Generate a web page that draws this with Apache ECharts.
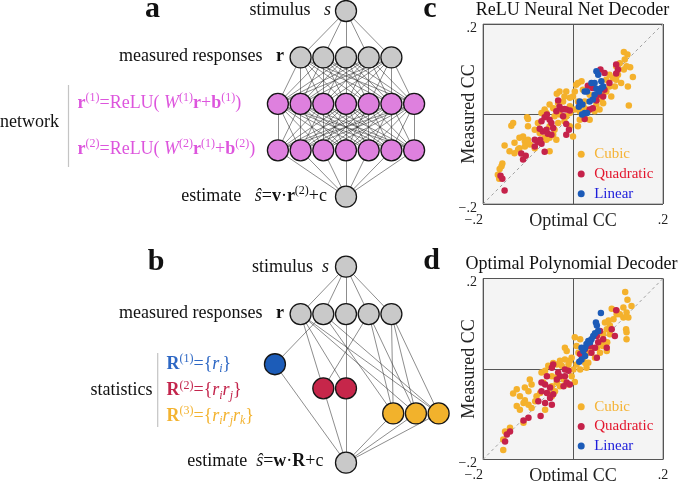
<!DOCTYPE html>
<html><head><meta charset="utf-8">
<script src="https://cdn.jsdelivr.net/npm/echarts@6/dist/echarts.min.js"></script>
<style>html,body{margin:0;padding:0;background:#fff}#chart{width:685px;height:481px}</style>
</head><body><div id="chart"></div>
<script>
// ---------------- DATA ----------------
// Network (a): nodes per layer
const netALayers = [1, 5, 7, 7, 1];
const netAKinds = ['in', 'resp', 'hid', 'hid', 'out'];
// Network (b): node layout in slot / level units
const netBSlots  = [0, -2, -1, 0, 1, 2, -3.13, -1, 0, 2.08, 3.08, 4.08, 0];
const netBLevels = [0, 1, 1, 1, 1, 1, 2.06, 2.57, 2.57, 3.1, 3.1, 3.1, 4.14];
const netBKinds  = ['in','resp','resp','resp','resp','resp','lin','quad','quad','cub','cub','cub','out'];
const netBEdges = [[0,1],[0,2],[0,3],[0,4],[0,5],
  [2,6],[1,7],[4,7],[3,8],[1,8],
  [5,9],[4,9],[2,9],[4,10],[5,10],[1,10],[5,11],[2,11],[1,11],
  [6,12],[7,12],[8,12],[9,12],[10,12],[11,12]];

const ccRange = [-0.2, 0.2];
const legendNames = ['Cubic', 'Quadratic', 'Linear'];

// (c) ReLU Neural Net Decoder: [optimal CC, measured CC]
const cubicC = [[0.113,0.138],[0.121,0.132],[0.119,0.106],[0.127,0.104],[0.113,0.099],[0.133,0.082],[0.122,0.061],[0.124,0.019],[0.096,0.106],[0.100,0.087],[0.089,0.080],[0.081,0.061],[0.093,0.061],[0.074,0.050],[0.085,0.039],[0.067,0.043],[0.074,0.076],[0.063,0.032],[0.052,0.021],[0.067,0.024],[0.033,0.006],[0.037,-0.013],[0.026,-0.009],[0.015,-0.013],[0.011,-0.027],[0.000,-0.050],[0.011,0.069],[0.019,0.073],[0.007,0.065],[0.022,0.054],[0.004,0.050],[0.000,0.039],[0.011,0.028],[-0.007,0.036],[-0.015,0.050],[-0.030,0.050],[-0.036,0.045],[-0.019,0.039],[-0.007,0.017],[-0.022,0.028],[-0.033,0.024],[-0.007,0.002],[-0.015,-0.005],[-0.030,-0.001],[-0.044,0.013],[-0.052,0.021],[-0.063,0.010],[-0.070,0.002],[-0.059,0.002],[-0.078,-0.020],[-0.052,-0.027],[-0.041,-0.035],[-0.033,-0.020],[-0.044,-0.046],[-0.037,-0.057],[-0.052,-0.053],[-0.063,-0.053],[-0.074,-0.042],[-0.100,-0.011],[-0.102,-0.007],[-0.137,-0.026],[-0.133,-0.020],[-0.100,-0.027],[-0.085,-0.035],[-0.119,-0.053],[-0.111,-0.050],[-0.107,-0.061],[-0.100,-0.057],[-0.130,-0.064],[-0.152,-0.070],[-0.119,-0.076],[-0.107,-0.072],[-0.130,-0.087],[-0.122,-0.079],[-0.096,-0.068],[-0.141,-0.083],[-0.159,-0.116],[-0.163,-0.122],[-0.167,-0.135],[-0.164,-0.144],[-0.157,-0.110],[-0.052,-0.083],[-0.059,-0.057],[-0.085,-0.076],[0.026,0.028],[0.037,0.043],[0.052,0.036],[0.026,0.013],[0.048,0.006],[0.059,0.010],[0.096,0.076],[0.107,0.069],[0.104,0.113],[0.115,0.121],[0.081,0.087],[-0.007,-0.027],[-0.019,-0.016],[0.004,0.010],[0.015,0.006],[-0.041,-0.005]];
const quadC = [[-0.152,-0.170],[-0.161,-0.137],[-0.157,-0.144],[-0.115,-0.088],[-0.105,-0.093],[-0.111,-0.101],[-0.085,-0.057],[-0.078,-0.062],[-0.070,-0.066],[-0.063,-0.084],[-0.073,-0.057],[-0.067,-0.039],[-0.074,-0.033],[-0.059,-0.035],[-0.056,-0.044],[-0.048,-0.046],[-0.052,-0.013],[-0.063,-0.007],[-0.058,-0.001],[-0.048,-0.020],[-0.070,-0.016],[-0.044,-0.031],[-0.030,0.016],[-0.024,0.010],[-0.015,0.010],[-0.007,0.008],[-0.033,0.030],[-0.019,0.011],[-0.015,-0.046],[-0.009,-0.035],[-0.015,-0.022],[0.033,0.063],[0.043,0.058],[0.061,0.099],[0.070,0.091],[0.096,0.110],[0.100,0.099],[0.096,0.090],[0.081,0.069],[0.067,0.039],[0.052,0.030],[0.037,0.010],[0.026,-0.011],[0.044,0.013],[0.015,0.024],[0.070,0.054],[0.056,0.043],[-0.037,0.006],[-0.022,-0.005],[-0.085,-0.072]];
const linC = [[0.052,0.095],[0.056,0.087],[0.048,0.069],[0.063,0.073],[0.067,0.061],[0.052,0.056],[0.058,0.050],[0.026,0.050],[0.031,0.050],[0.044,0.032],[0.037,0.028],[0.015,0.028],[0.021,0.021],[0.013,0.016],[0.026,0.002],[0.031,0.002],[0.020,-0.001],[0.041,0.069],[0.063,0.058],[0.048,0.043]];

// (d) Optimal Polynomial Decoder
const cubicD = [[0.116,0.170],[0.121,0.153],[0.112,0.136],[0.130,0.139],[0.119,0.125],[0.104,0.121],[0.112,0.114],[0.123,0.114],[0.118,0.088],[0.119,0.081],[0.119,0.066],[0.097,0.121],[0.090,0.110],[0.079,0.107],[0.071,0.103],[0.082,0.096],[0.075,0.088],[0.067,0.077],[0.076,0.059],[0.066,0.051],[0.060,0.036],[0.049,0.025],[0.034,0.014],[0.030,0.003],[0.004,0.070],[0.016,0.066],[0.008,0.051],[-0.018,0.047],[-0.014,0.040],[0.012,0.036],[-0.003,0.025],[-0.007,0.018],[-0.018,0.021],[-0.029,0.018],[-0.036,0.010],[-0.044,0.013],[-0.055,0.007],[-0.070,-0.008],[-0.062,-0.004],[-0.047,-0.016],[-0.033,-0.016],[-0.021,-0.023],[-0.003,-0.016],[0.004,-0.029],[-0.010,-0.034],[-0.029,-0.038],[-0.040,-0.049],[-0.055,-0.053],[-0.047,-0.060],[-0.066,-0.030],[-0.096,-0.023],[-0.092,-0.034],[-0.107,-0.041],[-0.099,-0.049],[-0.125,-0.045],[-0.133,-0.054],[-0.118,-0.060],[-0.107,-0.069],[-0.110,-0.075],[-0.099,-0.079],[-0.092,-0.086],[-0.118,-0.090],[-0.110,-0.119],[-0.151,-0.138],[-0.155,-0.156],[-0.155,-0.179],[-0.140,-0.130],[-0.081,-0.060],[-0.062,-0.090],[0.023,0.025],[0.034,0.036],[0.041,0.047],[0.053,0.047],[0.064,0.062],[0.082,0.077],[0.097,0.129],[0.086,0.133],[0.016,-0.001],[0.008,0.010],[0.027,0.013],[0.001,-0.001],[-0.014,-0.001],[-0.025,0.007],[-0.010,0.010],[-0.036,-0.030],[-0.047,-0.038],[-0.073,-0.053],[-0.084,-0.071],[-0.125,-0.082],[0.075,0.040]];
const quadD = [[0.096,0.130],[0.086,0.088],[0.093,0.073],[0.075,0.047],[0.067,0.066],[0.060,0.084],[0.053,0.073],[0.056,0.059],[0.049,0.047],[0.041,0.036],[0.053,0.025],[0.038,0.051],[0.027,0.044],[-0.044,0.010],[-0.047,0.003],[-0.018,-0.001],[-0.010,-0.004],[-0.018,-0.016],[-0.014,-0.030],[-0.007,-0.034],[-0.021,-0.038],[-0.058,-0.016],[-0.070,-0.030],[-0.062,-0.034],[-0.051,-0.041],[-0.058,-0.053],[-0.044,-0.056],[-0.070,-0.049],[-0.077,-0.071],[-0.062,-0.075],[-0.047,-0.079],[-0.051,-0.064],[-0.072,-0.104],[-0.099,-0.108],[-0.110,-0.114],[-0.140,-0.138],[-0.147,-0.145],[-0.151,-0.160],[0.016,0.033],[-0.029,-0.016],[-0.036,-0.023],[-0.033,-0.008]];
const linD = [[0.062,0.124],[0.051,0.103],[0.053,0.096],[0.056,0.084],[0.045,0.073],[0.041,0.066],[0.034,0.062],[0.030,0.055],[0.027,0.047],[0.023,0.040],[0.027,0.029],[0.019,0.021],[0.014,0.016],[0.049,0.079],[0.038,0.059],[0.019,0.047]];

// ---------------- STYLE ----------------
const F = 'Liberation Serif';
const NODE_COLORS = {in:'#c9c9c9', resp:'#c9c9c9', hid:'#de80de', out:'#c9c9c9', lin:'#1c5cb8', quad:'#c6264a', cub:'#f2b22c'};
const SER_COLORS = {Cubic:'#f4b12c', Quadratic:'#c5224a', Linear:'#1c5bb8'};
const LEG_TEXT = {Cubic:'#f5b335', Quadratic:'#e3162d', Linear:'#1d1ddb'};
const PINK = '#dd55dd';

const nodesA = [];
netALayers.forEach((n, li) => { for (let i = 0; i < n; i++) nodesA.push({x: i - (n - 1) / 2, y: li, kind: netAKinds[li], layer: li}); });
const edgesA = [];
for (let li = 0; li < netALayers.length - 1; li++) {
  nodesA.filter(a => a.layer === li).forEach(a => nodesA.filter(b => b.layer === li + 1).forEach(b => edgesA.push([[a.x,a.y],[b.x,b.y]])));
}
const nodesB = netBSlots.map((s, i) => ({x: s, y: netBLevels[i], kind: netBKinds[i]}));
const edgesB = netBEdges.map(e => [[nodesB[e[0]].x, nodesB[e[0]].y], [nodesB[e[1]].x, nodesB[e[1]].y]]);

function nodeSeries(nodes, gi) {
  return {type:'scatter', xAxisIndex:gi, yAxisIndex:gi, symbolSize:21, clip:false, silent:true, z:3,
    itemStyle:{borderColor:'#151515', borderWidth:1.3, opacity:1},
    data: nodes.map(n => ({value:[n.x, n.y], itemStyle:{color: NODE_COLORS[n.kind]}}))};
}
function edgeSeries(edges, gi) {
  return {type:'lines', coordinateSystem:'cartesian2d', xAxisIndex:gi, yAxisIndex:gi, clip:false, silent:true, z:1,
    lineStyle:{color:'#2a2a2a', width:0.6, opacity:0.9}, data: edges.map(c => ({coords:c}))};
}

const tickFmt = v => Math.abs(v - 0.2) < 1e-9 ? '.2' : (Math.abs(v + 0.2) < 1e-9 ? '\u2212.2' : '');
function ccX(gi) {
  return {gridIndex:gi, type:'value', min:ccRange[0], max:ccRange[1], interval:0.2,
    axisLine:{show:false}, axisTick:{show:false},
    splitLine:{show:true, lineStyle:{color:'#555', width:1}},
    axisLabel:{formatter:tickFmt, fontFamily:F, fontSize:14, color:'#222', margin:9, alignMinLabel:'right', alignMaxLabel:'center'},
    name:'Optimal CC', nameLocation:'middle', nameGap:8, nameMoveOverlap:false,
    nameTextStyle:{fontFamily:F, fontSize:18, color:'#222'}};
}
function ccY(gi) {
  return {gridIndex:gi, type:'value', min:ccRange[0], max:ccRange[1], interval:0.2,
    axisLine:{show:false}, axisTick:{show:false},
    splitLine:{show:true, lineStyle:{color:'#555', width:1}},
    axisLabel:{formatter:tickFmt, fontFamily:F, fontSize:14, color:'#222', margin:6, verticalAlign:'top', lineHeight:8},
    name:'Measured CC', nameLocation:'middle', nameGap:5, nameMoveOverlap:false,
    nameTextStyle:{fontFamily:F, fontSize:18, color:'#222'}};
}
function scatterSeries(name, data, gi) {
  return {type:'scatter', name, xAxisIndex:gi, yAxisIndex:gi, data, symbolSize:6.5, silent:true, z:3,
    itemStyle:{color:SER_COLORS[name], opacity:1}};
}
function diagSeries(gi) {
  return {type:'line', xAxisIndex:gi, yAxisIndex:gi, data:[[ccRange[0],ccRange[0]],[ccRange[1],ccRange[1]]],
    symbol:'none', silent:true, z:2, lineStyle:{color:'#a0a0a0', width:1, type:[3,3]}};
}
function legendAt(top) {
  return {orient:'vertical', left:577.7, top, padding:0, itemWidth:16, itemHeight:7, itemGap:4.7, icon:'circle',
    selectedMode:false, textStyle:{fontFamily:F, fontSize:15, lineHeight:15},
    data: legendNames.map(n => ({name:n, textStyle:{color:LEG_TEXT[n]}}))};
}

function richSet(color) {
  const base = {fontFamily:F, fontSize:18, color, lineHeight:22};
  return {
    n: base,
    b: Object.assign({}, base, {fontWeight:'bold'}),
    i: Object.assign({}, base, {fontStyle:'italic'}),
    sup: {fontFamily:F, fontSize:12, color, lineHeight:12, verticalAlign:'top'},
    sub: {fontFamily:F, fontSize:12, fontStyle:'italic', color, lineHeight:12, verticalAlign:'bottom'}
  };
}
function T(x, y, text, color, align) {
  return {type:'text', x, y, silent:true, z:10,
    style:{text, rich:richSet(color), align:align || 'left', verticalAlign:'middle',
      font:'18px "Liberation Serif"', fill:color, lineHeight:22}};
}
function plain(x, y, text, size, weight, align) {
  return {type:'text', x, y, silent:true, z:10,
    style:{text, align:align || 'center', verticalAlign:'middle', font:(weight||'normal') + ' ' + size + 'px "Liberation Serif"', fill:'#111'}};
}
function vline(x, y1, y2) {
  return {type:'line', silent:true, shape:{x1:x, y1, x2:x, y2}, style:{stroke:'#c4c4c4', lineWidth:1.2}};
}

const graphic = [
  plain(152.5, 9, 'a', 30, 'bold'),
  plain(156, 262, 'b', 30, 'bold'),
  plain(430, 9, 'c', 30, 'bold'),
  plain(431.5, 261, 'd', 30, 'bold'),
  plain(572.5, 10.5, 'ReLU Neural Net Decoder', 18),
  plain(571.5, 264, 'Optimal Polynomial Decoder', 18),
  T(331, 10, '{n|stimulus   }{i|s}', '#111', 'right'),
  T(284, 56, '{n|measured responses   }{b|r}', '#111', 'right'),
  T(0, 122, '{n|network}', '#111', 'left'),
  vline(68.5, 85, 167),
  T(77.5, 103, '{b|r}{sup|(1)}{n|=ReLU( }{i|W}{sup|(1)}{b|r}{n|+}{b|b}{sup|(1)}{n|)}', PINK, 'left'),
  T(77.5, 149, '{b|r}{sup|(2)}{n|=ReLU( }{i|W}{sup|(2)}{b|r}{sup|(1)}{n|+}{b|b}{sup|(2)}{n|)}', PINK, 'left'),
  T(327, 196, '{n|estimate   }{i|\u015D}{n|=}{b|v}{n|\u00B7}{b|r}{sup|(2)}{n|+c}', '#111', 'right'),
  T(329, 267, '{n|stimulus  }{i|s}', '#111', 'right'),
  T(284, 313, '{n|measured responses   }{b|r}', '#111', 'right'),
  T(152.5, 390, '{n|statistics}', '#111', 'right'),
  vline(157.7, 353, 427),
  T(166.5, 364, '{b|R}{sup|(1)}{n|={}{i|r}{sub|i}}', '#2d67c4', 'left'),
  T(166.5, 390.5, '{b|R}{sup|(2)}{n|={}{i|r}{sub|i}{i|r}{sub|j}}', '#c3254c', 'left'),
  T(166.5, 416, '{b|R}{sup|(3)}{n|={}{i|r}{sub|i}{i|r}{sub|j}{i|r}{sub|k}}', '#f3b330', 'left'),
  T(323.5, 461, '{n|estimate  }{i|\u015D}{n|=}{b|w}{n|\u00B7}{b|R}{n|+c}', '#111', 'right')
];

const chart = echarts.init(document.getElementById('chart'), null, {renderer:'canvas'});
chart.setOption({
  animation:false,
  backgroundColor:'#fff',
  grid:[
    {left:255.2, top:11, width:181.6, height:185.7, outerBoundsMode:'none'},
    {left:255.2, top:266.7, width:204.3, height:196, outerBoundsMode:'none'},
    {left:483, top:24, width:180, height:180, show:true, backgroundColor:'#f4f4f4', borderColor:'#8a8a8a', borderWidth:1, outerBoundsMode:'none'},
    {left:483, top:278.5, width:180, height:181, show:true, backgroundColor:'#f4f4f4', borderColor:'#8a8a8a', borderWidth:1, outerBoundsMode:'none'}
  ],
  xAxis:[
    {gridIndex:0, type:'value', min:-4, max:4, show:false},
    {gridIndex:1, type:'value', min:-4, max:5, show:false},
    ccX(2), ccX(3)
  ],
  yAxis:[
    {gridIndex:0, type:'value', min:0, max:4, inverse:true, show:false},
    {gridIndex:1, type:'value', min:0, max:4.14, inverse:true, show:false},
    ccY(2), ccY(3)
  ],
  legend:[legendAt(146.8), legendAt(399.2)],
  graphic,
  series:[
    edgeSeries(edgesA, 0), nodeSeries(nodesA, 0),
    edgeSeries(edgesB, 1), nodeSeries(nodesB, 1),
    diagSeries(2), scatterSeries('Cubic', cubicC, 2), scatterSeries('Quadratic', quadC, 2), scatterSeries('Linear', linC, 2),
    diagSeries(3), scatterSeries('Cubic', cubicD, 3), scatterSeries('Quadratic', quadD, 3), scatterSeries('Linear', linD, 3)
  ]
});
</script></body></html>
